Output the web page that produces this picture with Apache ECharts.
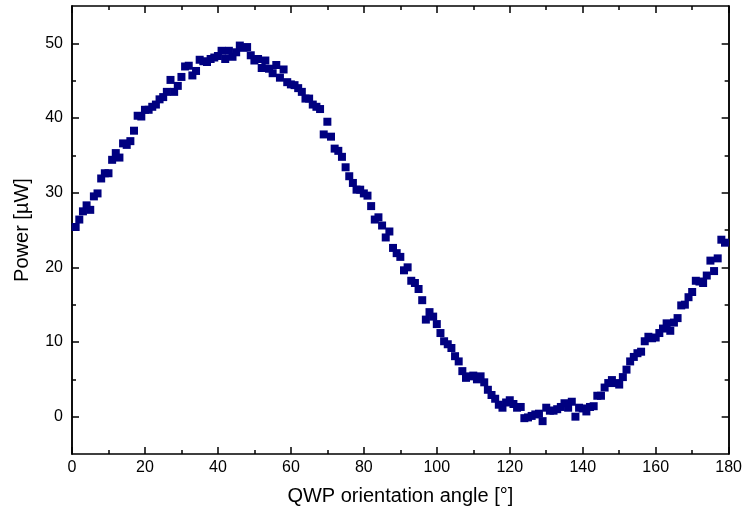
<!DOCTYPE html>
<html>
<head>
<meta charset="utf-8">
<script src="https://cdn.jsdelivr.net/npm/echarts@6/dist/echarts.min.js"></script>
<style>
  html, body { margin: 0; padding: 0; background: #fff; }
  #chart { width: 745px; height: 517px; }
</style>
</head>
<body>
<div id="chart"></div>
<script>
// QWP angle [deg] (measured every 1 degree)
const angles = [
  1, 2, 3, 4, 5, 6, 7, 8, 9, 10,
  11, 12, 13, 14, 15, 16, 17, 18, 19, 20,
  21, 22, 23, 24, 25, 26, 27, 28, 29, 30,
  31, 32, 33, 34, 35, 36, 37, 38, 39, 40,
  41, 42, 43, 44, 45, 46, 47, 48, 49, 50,
  51, 52, 53, 54, 55, 56, 57, 58, 59, 60,
  61, 62, 63, 64, 65, 66, 67, 68, 69, 70,
  71, 72, 73, 74, 75, 76, 77, 78, 79, 80,
  81, 82, 83, 84, 85, 86, 87, 88, 89, 90,
  91, 92, 93, 94, 95, 96, 97, 98, 99, 100,
  101, 102, 103, 104, 105, 106, 107, 108, 109, 110,
  111, 112, 113, 114, 115, 116, 117, 118, 119, 120,
  121, 122, 123, 124, 125, 126, 127, 128, 129, 130,
  131, 132, 133, 134, 135, 136, 137, 138, 139, 140,
  141, 142, 143, 144, 145, 146, 147, 148, 149, 150,
  151, 152, 153, 154, 155, 156, 157, 158, 159, 160,
  161, 162, 163, 164, 165, 166, 167, 168, 169, 170,
  171, 172, 173, 174, 175, 176, 177, 178, 179
];

const power = [
  25.4, 26.4, 27.5, 28.3, 27.7, 29.5, 29.9, 31.9, 32.6, 32.6,
  34.4, 35.3, 34.7, 36.6, 36.4, 36.9, 38.3, 40.3, 40.2, 41.1,
  41.1, 41.5, 41.8, 42.5, 42.8, 43.5, 45.1, 43.5, 44.3, 45.5,
  46.9, 47.0, 45.7, 46.3, 47.8, 47.6, 47.5, 47.9, 48.1, 48.3,
  49.0, 47.9, 49.0, 48.2, 48.8, 49.7, 49.4, 49.5, 48.4, 47.7,
  47.9, 46.7, 47.7, 46.6, 46.0, 47.1, 45.4, 46.5, 44.8, 44.5,
  44.4, 44.0, 43.5, 42.6, 42.6, 41.8, 41.5, 41.2, 37.8, 39.5,
  37.5, 35.9, 35.6, 34.8, 33.4, 32.2, 31.3, 30.4, 30.4, 29.9,
  29.6, 28.2, 26.4, 26.7, 25.6, 24.0, 24.8, 22.6, 21.9, 21.4,
  19.6, 20.0, 18.2, 17.9, 17.1, 15.6, 13.0, 14.0, 13.4, 12.4,
  11.2, 10.1, 9.7, 9.2, 8.1, 7.4, 6.1, 5.2, 5.4, 5.5,
  5.0, 5.4, 4.6, 3.6, 2.9, 2.4, 1.6, 1.2, 1.9, 2.2,
  1.7, 1.2, 1.3, -0.2, -0.1, 0.1, 0.3, 0.4, -0.6, 1.2,
  0.8, 0.8, 1.0, 1.3, 1.8, 1.2, 2.0, 0.0, 1.2, 1.1,
  0.7, 1.3, 1.4, 2.8, 2.8, 3.9, 4.5, 4.9, 4.5, 4.3,
  5.3, 6.3, 7.4, 8.0, 8.5, 8.7, 10.1, 10.7, 10.5, 10.6,
  11.2, 11.8, 12.5, 11.5, 12.6, 13.2, 14.9, 15.0, 16.0, 16.7,
  18.2, 18.1, 17.9, 18.9, 20.9, 19.5, 21.2, 23.7, 23.3
];

// tick positions on the power axis
const yMajorTicks = [0, 10, 20, 30, 40, 50];
const yMinorTicks = [5, 15, 25, 35, 45];

const FONT = '"Liberation Sans", Arial, sans-serif';
const AXIS_COLOR = '#000';
const POINT_COLOR = '#000080';

const points = angles.map((a, i) => [a, power[i]]);

const myChart = echarts.init(document.getElementById('chart'));

// x axis (bottom with labels, top just as frame)
function xAxisDef(pos) {
    return {
        type: 'value',
        position: pos,
        min: 0,
        max: 180,
        interval: 20,
        axisLine: { show: true, onZero: false, lineStyle: { color: AXIS_COLOR, width: 1.5 } },
        axisTick: { show: true, inside: true, length: 7, lineStyle: { color: AXIS_COLOR, width: 1.5 } },
        minorTick: { show: true, splitNumber: 2, length: 4, lineStyle: { color: AXIS_COLOR, width: 1.5 } },
        axisLabel: {
            show: pos === 'bottom',
            fontSize: 16,
            fontFamily: FONT,
            color: '#000',
            margin: 6
        },
        splitLine: { show: false },
        minorSplitLine: { show: false },
        name: pos === 'bottom' ? 'QWP orientation angle [°]' : '',
        nameLocation: 'middle',
        nameGap: 32,
        nameTextStyle: { fontSize: 20, fontFamily: FONT, color: '#000' }
    };
}

// y axis, one for major ticks (+labels) and one for minor ticks on each side
function yAxisDef(pos, major) {
    const withLabel = major && pos === 'left';
    return {
        type: 'value',
        position: pos,
        min: -5,
        max: 55,
        axisLine: { show: true, onZero: false, lineStyle: { color: AXIS_COLOR, width: 1.5 } },
        axisTick: {
            show: true,
            inside: true,
            length: major ? 7 : 4,
            customValues: major ? yMajorTicks : yMinorTicks,
            lineStyle: { color: AXIS_COLOR, width: 1.5 }
        },
        axisLabel: {
            show: withLabel,
            customValues: yMajorTicks,
            fontSize: 16,
            fontFamily: FONT,
            color: '#000',
            margin: 9
        },
        splitLine: { show: false },
        name: withLabel ? 'Power [µW]' : '',
        nameLocation: 'middle',
        nameGap: 40,
        nameTextStyle: { fontSize: 20, fontFamily: FONT, color: '#000' }
    };
}

const option = {
    backgroundColor: '#fff',
    animation: false,
    grid: {
        left: 72,
        right: 15,
        top: 6,
        bottom: 63
    },
    xAxis: [xAxisDef('bottom'), xAxisDef('top')],
    yAxis: [
        yAxisDef('left', true),
        yAxisDef('left', false),
        yAxisDef('right', true),
        yAxisDef('right', false)
    ],
    series: [{
        type: 'scatter',
        xAxisIndex: 0,
        yAxisIndex: 0,
        data: points,
        symbol: 'rect',
        symbolSize: 8,
        itemStyle: { color: POINT_COLOR, opacity: 1 },
        clip: true
    }]
};

myChart.setOption(option);
</script>
</body>
</html>
